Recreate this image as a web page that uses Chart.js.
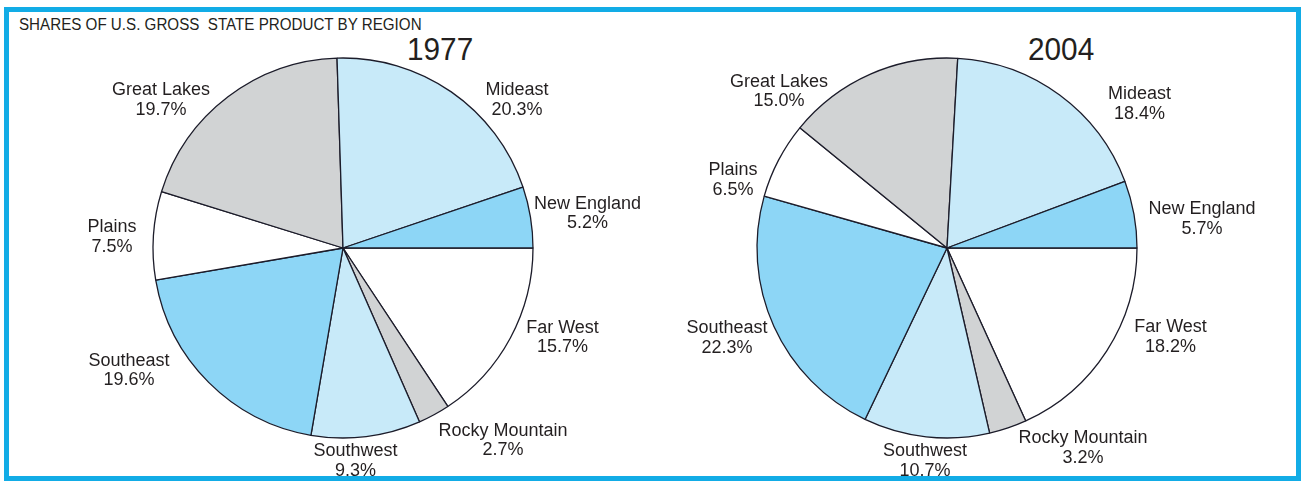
<!DOCTYPE html>
<html>
<head>
<meta charset="utf-8">
<script src="https://cdn.jsdelivr.net/npm/chart.js@4.4.1/dist/chart.umd.min.js"></script>
<style>
  html, body { margin: 0; padding: 0; background: #ffffff; }
  body { width: 1302px; height: 481px; position: relative; overflow: hidden;
         font-family: "Liberation Sans", Arial, Helvetica, sans-serif; color: #231f20; }
  #frame { position: absolute; left: 4px; top: 7px; width: 1297px; height: 474px;
           box-sizing: border-box; border: 5px solid #12ace6; }
  .txt { position: absolute; white-space: nowrap; line-height: 1; transform-origin: left top; }
  #title { left: 19px; top: 16.5px; font-size: 16px; transform: scaleX(0.948); }
  .year { top: 32.5px; font-size: 32px; transform: scaleX(0.93); }
  canvas { position: absolute; top: 0; }
</style>
</head>
<body>
<div id="frame"></div>
<div id="title" class="txt">SHARES OF U.S. GROSS&nbsp; STATE PRODUCT BY REGION</div>
<div id="y1" class="txt year" style="left:407px">1977</div>
<div id="y2" class="txt year" style="left:1028px">2004</div>
<canvas id="c1" width="651" height="481" style="left:0px"></canvas>
<canvas id="c2" width="651" height="481" style="left:651px"></canvas>
<script>
// ---- data (clockwise from 3 o'clock) ----
const regions   = ['Far West', 'Rocky Mountain', 'Southwest', 'Southeast', 'Plains', 'Great Lakes', 'Mideast', 'New England'];
const share1977 = [15.7, 2.7, 9.3, 19.6, 7.5, 19.7, 20.3, 5.2];
const share2004 = [18.2, 3.2, 10.7, 22.3, 6.5, 15.0, 18.4, 5.7];
const years     = ['1977', '2004'];

// ---- styling ----
const sliceColors = ['#ffffff', '#d1d3d4', '#c8eaf9', '#8dd6f6', '#ffffff', '#d1d3d4', '#c8eaf9', '#8dd6f6'];

// label layout: offset of label (center x, first-line baseline) from pie center
const labelLayout1977 = {
  'New England': [244.5, -39.5], 'Mideast': [174, -152.7], 'Great Lakes': [-182, -152.7],
  'Plains': [-231, -16], 'Southeast': [-214, 117.7], 'Southwest': [12.5, 208],
  'Rocky Mountain': [160, 187.7], 'Far West': [219.5, 84.7]
};
const labelLayout2004 = {
  'New England': [255, -34], 'Mideast': [192.5, -148.7], 'Great Lakes': [-168, -161.3],
  'Plains': [-214, -73], 'Southeast': [-220, 85.3], 'Southwest': [-22, 208],
  'Rocky Mountain': [136, 195.3], 'Far West': [223.5, 84.3]
};

const labelPlugin = {
  id: 'sliceLabels',
  afterDatasetsDraw(chart, args, opts) {
    const ctx = chart.ctx;
    const meta = chart.getDatasetMeta(0);
    const ds = chart.data.datasets[0];
    ctx.save();
    ctx.font = '18px "Liberation Sans", Arial, Helvetica, sans-serif';
    ctx.fillStyle = '#231f20';
    ctx.textAlign = 'center';
    ctx.textBaseline = 'alphabetic';
    meta.data.forEach((arc, i) => {
      const name = chart.data.labels[i];
      const off = opts.layout[name];
      const x = arc.x + off[0];
      const y = arc.y + off[1];
      ctx.fillText(name, x, y);
      ctx.fillText(ds.data[i].toFixed(1) + '%', x, y + 19.5);
    });
    ctx.restore();
  }
};

function makePie(id, values, layout, padding) {
  return new Chart(document.getElementById(id), {
    type: 'pie',
    data: {
      labels: regions,
      datasets: [{
        data: values,
        backgroundColor: sliceColors,
        borderColor: '#1c1c2a',
        borderWidth: 1.3,
        radius: 190
      }]
    },
    options: {
      responsive: false,
      animation: false,
      rotation: 90,
      layout: { padding: padding },
      plugins: {
        legend: { display: false },
        tooltip: { enabled: false },
        title: { display: false },
        sliceLabels: { layout: layout }
      },
      events: []
    },
    plugins: [labelPlugin]
  });
}

makePie('c1', share1977, labelLayout1977, { left: 35, right: 0, top: 15, bottom: 0 });
makePie('c2', share2004, labelLayout2004, { left: 0, right: 59, top: 15, bottom: 0 });
</script>
</body>
</html>
